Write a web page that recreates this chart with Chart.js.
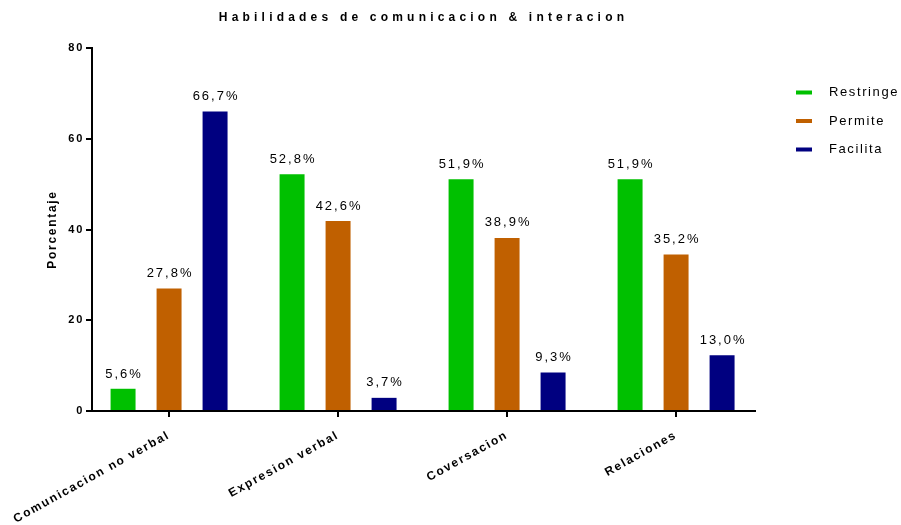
<!DOCTYPE html>
<html>
<head>
<meta charset="utf-8">
<script src="https://cdn.jsdelivr.net/npm/chart.js@4.4.0/dist/chart.umd.min.js"></script>
<style>
  html, body { margin: 0; padding: 0; background: #fff; }
</style>
</head>
<body>
<canvas id="chart" width="901" height="525"></canvas>
<script>
const categories = ['Comunicacion no verbal', 'Expresion verbal', 'Coversacion', 'Relaciones'];
const seriesNames = ['Restringe', 'Permite', 'Facilita'];
const seriesColors = ['#00c000', '#c06000', '#000080'];

// bar heights as drawn in the picture
const restringe = [4.9, 52.2, 51.1, 51.1];
const permite = [27.0, 41.9, 38.1, 34.5];
const facilita = [66.0, 2.9, 8.5, 12.3];

// percentages printed above the bars
const restringePct = [5.6, 52.8, 51.9, 51.9];
const permitePct = [27.8, 42.6, 38.9, 35.2];
const facilitaPct = [66.7, 3.7, 9.3, 13.0];

const yTicks = [0, 20, 40, 60, 80];

const FONT = "'Liberation Sans', Arial, sans-serif";
Chart.defaults.font.family = FONT;
Chart.defaults.color = '#000';

const barValues = [restringe, permite, facilita];
const pctValues = [restringePct, permitePct, facilitaPct];

function fmtPct(v) {
  return v.toFixed(1).replace('.', ',') + '%';
}

// letter spacing for everything Chart.js draws, plus title, legend and value labels
const extras = {
  id: 'extras',
  beforeUpdate(chart) { chart.ctx.letterSpacing = '1.7px'; },
  beforeDraw(chart) { chart.ctx.letterSpacing = '1.7px'; },
  afterDraw(chart) {
    const ctx = chart.ctx;
    const area = chart.chartArea;
    const y = chart.scales.y;

    // title
    ctx.save();
    ctx.letterSpacing = '4.2px';
    ctx.font = 'bold 12px ' + FONT;
    ctx.fillStyle = '#000';
    ctx.textAlign = 'center';
    ctx.textBaseline = 'alphabetic';
    ctx.fillText('Habilidades de comunicacion & interacion', (area.left + area.right) / 2, 21);
    ctx.restore();

    // value labels
    ctx.save();
    ctx.letterSpacing = '2px';
    ctx.font = '13px ' + FONT;
    ctx.fillStyle = '#000';
    ctx.textAlign = 'center';
    ctx.textBaseline = 'alphabetic';
    pctValues.forEach((pcts, d) => {
      const meta = chart.getDatasetMeta(d);
      meta.data.forEach((bar, i) => {
        ctx.fillText(fmtPct(pcts[i]), bar.x + 1, y.getPixelForValue(pcts[i]) - 8);
      });
    });
    ctx.restore();

    // legend
    ctx.save();
    ctx.letterSpacing = '1.6px';
    ctx.font = '13px ' + FONT;
    ctx.textAlign = 'left';
    ctx.textBaseline = 'middle';
    seriesNames.forEach((name, k) => {
      const cy = 92.5 + k * 28.5;
      ctx.fillStyle = seriesColors[k];
      ctx.fillRect(796, cy - 2, 16, 4);
      ctx.fillStyle = '#000';
      ctx.fillText(name, 829, cy);
    });
    ctx.restore();
  }
};

new Chart(document.getElementById('chart'), {
  type: 'bar',
  data: {
    datasets: seriesNames.map((name, k) => ({
      label: name,
      data: categories.map((c, i) => ({ x: i, y: barValues[k][i] })),
      backgroundColor: seriesColors[k],
      borderWidth: 0,
      categoryPercentage: 0.8166,
      barPercentage: 0.543
    }))
  },
  options: {
    responsive: false,
    animation: false,
    devicePixelRatio: 1,
    layout: { padding: { top: 48, right: 146, left: 0, bottom: 0 } },
    plugins: {
      legend: { display: false },
      title: { display: false },
      tooltip: { enabled: false }
    },
    scales: {
      x: {
        type: 'linear',
        bounds: 'data',
        offset: false,
        min: -0.456,
        max: 3.467,
        afterBuildTicks: s => { s.ticks = categories.map((c, i) => ({ value: i })); },
        afterFit: s => { s.height = 114; s.paddingLeft = 0; s.paddingRight = 0; },
        ticks: {
          autoSkip: false,
          minRotation: 29,
          maxRotation: 29,
          padding: 11,
          font: { size: 12, weight: 'bold' },
          color: '#000',
          callback: v => categories[v]
        },
        grid: { offset: false, drawOnChartArea: false, drawTicks: true, tickLength: 6, color: '#000', lineWidth: 2 },
        border: { display: true, color: '#000', width: 2 }
      },
      y: {
        min: 0,
        max: 80,
        afterBuildTicks: s => { s.ticks = yTicks.map(v => ({ value: v })); },
        afterFit: s => { s.width = 92; },
        ticks: {
          padding: 2,
          font: { size: 11, weight: 'bold' },
          color: '#000'
        },
        grid: { drawOnChartArea: false, drawTicks: true, tickLength: 6, color: '#000', lineWidth: 2 },
        border: { display: true, color: '#000', width: 2 },
        title: {
          display: true,
          text: 'Porcentaje',
          font: { size: 12, weight: 'bold' },
          color: '#000',
          padding: { top: 45, bottom: 0 }
        }
      }
    }
  },
  plugins: [extras]
});
</script>
</body>
</html>
